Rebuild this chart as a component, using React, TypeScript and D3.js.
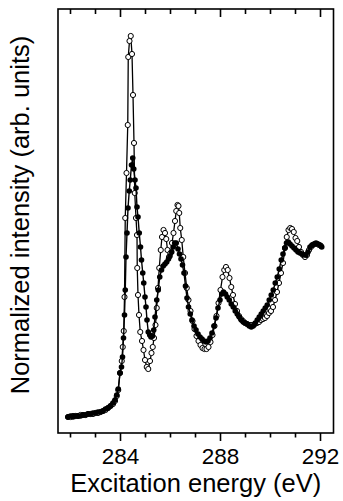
import * as React from "react";
import * as d3 from "d3";

// open circles (upper trace at the main resonance)
const openEnergy = [
  281.9, 282.0, 282.1, 282.2, 282.3, 282.4, 282.5, 282.6, 282.7, 282.8, 282.9, 283.0, 283.1, 283.2,
  283.3, 283.4, 283.5, 283.6, 283.7, 283.78, 283.85, 283.91, 283.98, 284.05, 284.09, 284.13, 284.16,
  284.19, 284.24, 284.29, 284.31, 284.36, 284.41, 284.46, 284.5, 284.54, 284.57, 284.62, 284.66,
  284.67, 284.7, 284.74, 284.79, 284.86, 284.92, 284.98, 285.05, 285.11, 285.18, 285.24, 285.29,
  285.34, 285.4, 285.45, 285.5, 285.55, 285.61, 285.66, 285.72, 285.78, 285.83, 285.88, 285.94,
  286.0, 286.06, 286.12, 286.18, 286.23, 286.28, 286.32, 286.35, 286.39, 286.45, 286.51, 286.58,
  286.65, 286.72, 286.8, 286.88, 286.96, 287.04, 287.12, 287.2, 287.28, 287.36, 287.44, 287.52,
  287.6, 287.68, 287.76, 287.84, 287.92, 288.0, 288.08, 288.15, 288.22, 288.29, 288.36, 288.43,
  288.5, 288.58, 288.66, 288.74, 288.82, 288.9, 288.98, 289.06, 289.14, 289.22, 289.3, 289.38,
  289.46, 289.54, 289.62, 289.7, 289.78, 289.86, 289.94, 290.02, 290.1, 290.18, 290.26, 290.34,
  290.42, 290.5, 290.58, 290.65, 290.72, 290.79, 290.86, 290.93, 291.0, 291.07, 291.14, 291.22,
  291.3, 291.38, 291.46, 291.54, 291.62, 291.7, 291.78, 291.86, 291.94, 292.02,
];
const openIntensity = [
  0.16, 0.16, 0.17, 0.17, 0.17, 0.18, 0.18, 0.18, 0.19, 0.19, 0.19, 0.2, 0.2, 0.21,
  0.22, 0.23, 0.25, 0.27, 0.29, 0.32, 0.37, 0.43, 0.6, 0.72, 0.86, 1.02, 1.36,
  2.15, 2.6, 3.08, 3.76, 3.92, 3.97, 3.79, 3.38, 2.9, 2.4, 2.15, 1.98,
  1.65, 1.38, 1.18, 1.01, 0.92, 0.83, 0.73, 0.66, 0.64, 0.72, 0.8, 0.86,
  0.95, 1.08, 1.25, 1.45, 1.65, 1.83, 1.96, 2.03, 2.0, 1.94, 1.83, 1.76,
  1.8, 1.9, 2.0, 2.12, 2.22, 2.28, 2.27, 2.2, 2.05, 1.93, 1.76, 1.6,
  1.45, 1.33, 1.22, 1.12, 1.04, 0.97, 0.92, 0.88, 0.85, 0.84, 0.84, 0.86,
  0.91, 0.98, 1.07, 1.17, 1.3, 1.43, 1.56, 1.63, 1.66, 1.63, 1.55, 1.46,
  1.38, 1.29, 1.22, 1.17, 1.14, 1.12, 1.1, 1.09, 1.08, 1.08, 1.08, 1.09,
  1.1, 1.11, 1.13, 1.14, 1.15, 1.17, 1.2, 1.22, 1.26, 1.33, 1.41, 1.5,
  1.6, 1.7, 1.85, 1.96, 2.03, 2.05, 2.04, 2.01, 1.95, 1.92, 1.86, 1.81,
  1.78, 1.76, 1.78, 1.83, 1.86, 1.88, 1.89, 1.89, 1.88, 1.87,
];

// filled circles
const filledEnergy = [
  281.9, 282.0, 282.1, 282.2, 282.3, 282.4, 282.5, 282.6, 282.7, 282.8, 282.9, 283.0, 283.1, 283.2,
  283.3, 283.4, 283.5, 283.6, 283.7, 283.78, 283.85, 283.91, 283.98, 284.04, 284.08, 284.12, 284.16,
  284.19, 284.22, 284.26, 284.3, 284.35, 284.39, 284.44, 284.49, 284.53, 284.58, 284.62, 284.66,
  284.7, 284.75, 284.8, 284.84, 284.89, 284.93, 284.98, 285.02, 285.06, 285.11, 285.17, 285.22,
  285.28, 285.33, 285.38, 285.45, 285.51, 285.57, 285.64, 285.71, 285.78, 285.85, 285.92, 285.98,
  286.05, 286.11, 286.17, 286.23, 286.3, 286.36, 286.42, 286.48, 286.54, 286.6, 286.66, 286.72,
  286.79, 286.86, 286.94, 287.02, 287.1, 287.18, 287.26, 287.34, 287.42, 287.5, 287.58, 287.66,
  287.74, 287.82, 287.9, 287.98, 288.05, 288.12, 288.2, 288.27, 288.35, 288.43, 288.51, 288.59,
  288.67, 288.75, 288.83, 288.91, 288.99, 289.07, 289.15, 289.23, 289.31, 289.39, 289.47, 289.55,
  289.63, 289.71, 289.79, 289.87, 289.95, 290.03, 290.11, 290.19, 290.27, 290.35, 290.43, 290.5,
  290.57, 290.64, 290.71, 290.78, 290.86, 290.94, 291.02, 291.1, 291.18, 291.26, 291.34, 291.42,
  291.5, 291.58, 291.66, 291.74, 291.82, 291.9, 291.98, 292.05,
];
const filledIntensity = [
  0.16, 0.17, 0.16, 0.17, 0.17, 0.17, 0.18, 0.18, 0.19, 0.19, 0.2, 0.2, 0.21, 0.21,
  0.22, 0.24, 0.25, 0.27, 0.3, 0.33, 0.38, 0.44, 0.6, 0.66, 0.76, 0.95, 1.18,
  1.43, 1.76, 2.0, 2.25, 2.42, 2.53, 2.68, 2.75, 2.64, 2.53, 2.45, 2.26,
  2.16, 2.0, 1.86, 1.73, 1.6, 1.5, 1.36, 1.26, 1.13, 1.01, 0.98, 0.96,
  0.97, 1.03, 1.16, 1.33, 1.43, 1.56, 1.63, 1.67, 1.69, 1.71, 1.74, 1.77,
  1.81, 1.86, 1.9, 1.9, 1.84, 1.79, 1.74, 1.68, 1.6, 1.47, 1.35, 1.26,
  1.19, 1.13, 1.07, 1.03, 0.99, 0.96, 0.94, 0.92, 0.91, 0.92, 0.95, 1.0,
  1.07, 1.15, 1.25, 1.33, 1.39, 1.41, 1.39, 1.36, 1.33, 1.29, 1.26, 1.22,
  1.19, 1.16, 1.13, 1.11, 1.1, 1.09, 1.07, 1.06, 1.07, 1.1, 1.13, 1.16,
  1.19, 1.22, 1.25, 1.28, 1.33, 1.38, 1.43, 1.5, 1.56, 1.64, 1.73, 1.79,
  1.85, 1.9, 1.91, 1.89, 1.87, 1.85, 1.83, 1.81, 1.8, 1.79, 1.78, 1.78,
  1.81, 1.86, 1.88, 1.89, 1.9, 1.89, 1.88, 1.86,
];

const xTicks = [282, 283, 284, 285, 286, 287, 288, 289, 290, 291, 292];
const xTickLabels = ["284", "288", "292"];

const width = 343;
const height = 501;
const left = 58;
const right = 333.5;
const top = 9;
const bottom = 433;
const font = "'Liberation Sans', Arial, Helvetica, sans-serif";

export default function App() {
  const x = d3.scaleLinear().domain([281.5, 292.52]).range([left, right]);
  const y = d3.scaleLinear().domain([0, 4.24]).range([bottom, top]);

  const openPts = openEnergy.map((e, i) => [e, openIntensity[i]] as [number, number]);
  const filledPts = filledEnergy.map((e, i) => [e, filledIntensity[i]] as [number, number]);

  const line = d3
    .line<[number, number]>()
    .x((d) => x(d[0]))
    .y((d) => y(d[1]));

  const isMajor = (t: number) => xTickLabels.includes(String(t));

  return (
    <svg
      width={width}
      height={height}
      style={{ position: "absolute", left: 0, top: 0, background: "#fff" }}
    >
      {/* frame */}
      <rect
        x={left}
        y={top}
        width={right - left}
        height={bottom - top}
        fill="none"
        stroke="#000"
        strokeWidth={1.6}
      />
      {xTicks.map((t) => (
        <g key={t}>
          <line
            x1={x(t)}
            x2={x(t)}
            y1={bottom}
            y2={bottom + (isMajor(t) ? 8 : 4.5)}
            stroke="#000"
            strokeWidth={1.6}
          />
          <line
            x1={x(t)}
            x2={x(t)}
            y1={top}
            y2={top + (isMajor(t) ? 8 : 5)}
            stroke="#000"
            strokeWidth={1.6}
          />
          {isMajor(t) && (
            <text
              x={x(t)}
              y={464}
              textAnchor="middle"
              fontFamily={font}
              fontSize={22.5}
              fill="#000"
            >
              {t}
            </text>
          )}
        </g>
      ))}

      {/* open series */}
      <path d={line(openPts) ?? ""} fill="none" stroke="#000" strokeWidth={1.3} />
      {openPts.map((d, i) => (
        <circle
          key={"o" + i}
          cx={x(d[0])}
          cy={y(d[1])}
          r={2.6}
          fill="#fff"
          stroke="#000"
          strokeWidth={1}
        />
      ))}

      {/* filled series */}
      <path d={line(filledPts) ?? ""} fill="none" stroke="#000" strokeWidth={1.4} />
      {filledPts.map((d, i) => (
        <circle key={"f" + i} cx={x(d[0])} cy={y(d[1])} r={2.8} fill="#000" />
      ))}

      <text
        x={(left + right) / 2}
        y={492}
        textAnchor="middle"
        fontFamily={font}
        fontSize={25.5}
        fill="#000"
      >
        Excitation energy (eV)
      </text>
      <text
        transform={`translate(29, 215) rotate(-90)`}
        textAnchor="middle"
        fontFamily={font}
        fontSize={25.5}
        fill="#000"
      >
        Normalized intensity (arb. units)
      </text>
    </svg>
  );
}
